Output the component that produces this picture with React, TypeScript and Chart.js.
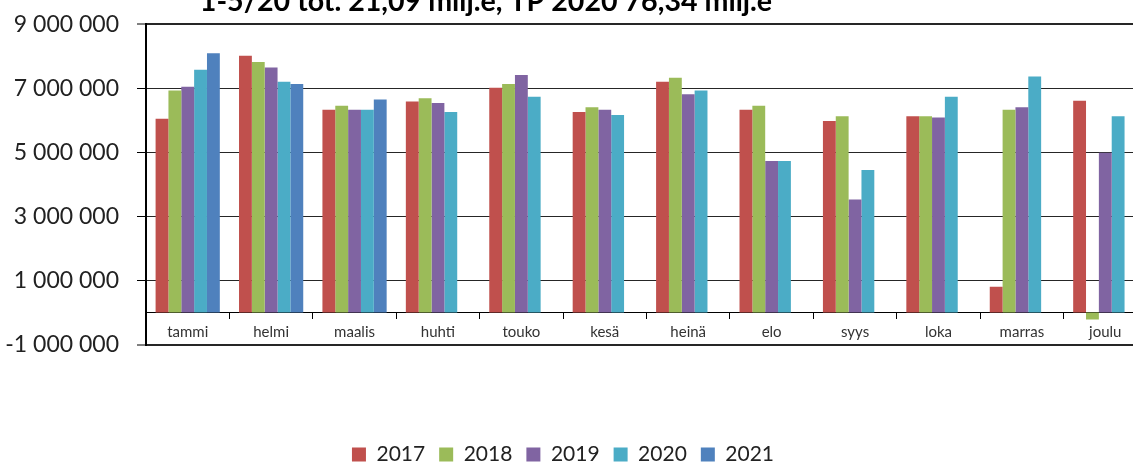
import { useEffect, useRef } from 'react';
import { Chart, registerables } from 'chart.js';

Chart.register(...registerables);

const TITLE = '1-5/20 tot. 21,09 milj.e, TP 2020 76,34 milj.e';

const CATEGORIES = ['tammi', 'helmi', 'maalis', 'huhti', 'touko', 'kesä', 'heinä', 'elo', 'syys', 'loka', 'marras', 'joulu'];

const SERIES_LABELS = ['2017', '2018', '2019', '2020', '2021'];

const V2017 = [6050000, 8020000, 6330000, 6590000, 7020000, 6260000, 7210000, 6330000, 5980000, 6130000, 810000, 6610000];
const V2018 = [6930000, 7820000, 6460000, 6690000, 7140000, 6410000, 7330000, 6460000, 6130000, 6130000, 6330000, -220000];
const V2019 = [7050000, 7650000, 6330000, 6540000, 7420000, 6330000, 6820000, 4730000, 3530000, 6090000, 6410000, 4990000];
const V2020 = [7580000, 7210000, 6330000, 6260000, 6740000, 6170000, 6930000, 4730000, 4450000, 6740000, 7370000, 6130000];
const V2021 = [8100000, 7140000, 6650000, null, null, null, null, null, null, null, null, null];

const SERIES_VALUES = [V2017, V2018, V2019, V2020, V2021];

const COLORS = ['#C0504D', '#9BBB59', '#8064A2', '#4BACC6', '#4F81BD'];

const Y_MIN = -1000000;
const Y_MAX = 9000000;
const Y_STEP = 2000000;

const CANVAS_W = 1160;
const CANVAS_H = 492;
const CANVAS_TOP = -17;
const Y_AXIS_W = 146;
const TITLE_CENTER = 486;
const LEGEND_CENTER = 563;

const FONT = 'Lato';

function formatTick(v: number): string {
  const s = Math.round(Math.abs(v)).toString().replace(/\B(?=(\d{3})+(?!\d))/g, ' ');
  return (v < 0 ? '-' : '') + s;
}

const placePlugin = {
  id: 'placeBlocks',
  afterLayout(chart: any) {
    const t = chart.titleBlock;
    if (t) {
      const d = TITLE_CENTER - (t.left + t.right) / 2;
      t.left += d;
      t.right += d;
    }
    const l = chart.legend;
    if (l) {
      const d = LEGEND_CENTER - (l.left + l.right) / 2;
      l.left += d;
      l.right += d;
    }
  },
};

export default function App() {
  const ref = useRef<HTMLCanvasElement>(null);

  useEffect(() => {
    const canvas = ref.current;
    if (!canvas) return;
    const chart = new Chart(canvas, {
      type: 'bar',
      data: {
        labels: CATEGORIES,
        datasets: SERIES_LABELS.map((label, i) => ({
          label,
          data: SERIES_VALUES[i],
          backgroundColor: COLORS[i],
          borderWidth: 0,
          barPercentage: 1,
          categoryPercentage: 0.77,
        })),
      },
      options: {
        responsive: false,
        animation: false,
        events: [],
        layout: { padding: { left: 0, right: 13, top: 0, bottom: 0 } },
        plugins: {
          title: {
            display: true,
            text: TITLE,
            color: '#000',
            font: { family: FONT, size: 28.6, weight: 'bold' },
            padding: { top: 2, bottom: 5 },
          },
          legend: {
            position: 'bottom',
            labels: {
              boxWidth: 14,
              boxHeight: 14,
              padding: 14,
              color: '#222',
              font: { family: FONT, size: 21 },
            },
            title: {
              display: true,
              text: '',
              font: { family: FONT, size: 12 },
              padding: { top: 71, bottom: 0 },
            },
          },
          tooltip: { enabled: false },
        },
        scales: {
          x: {
            position: { y: 0 },
            grid: {
              display: true,
              drawOnChartArea: false,
              drawTicks: true,
              tickLength: 6,
              color: '#000',
              lineWidth: 1,
              offset: true,
            },
            border: { display: true, color: '#000', width: 1 },
            ticks: {
              color: '#333',
              padding: 5,
              maxRotation: 0,
              autoSkip: false,
              font: { family: FONT, size: 15 },
            },
          },
          y: {
            min: Y_MIN,
            max: Y_MAX,
            afterFit(scale: any) {
              scale.width = Y_AXIS_W;
            },
            ticks: {
              stepSize: Y_STEP,
              padding: 18,
              color: '#222',
              font: { family: FONT, size: 23 },
              callback: (v: any) => formatTick(Number(v)),
            },
            grid: {
              color: '#262626',
              lineWidth: (ctx: any) => (ctx.tick && (ctx.tick.value === Y_MAX || ctx.tick.value === Y_MIN) ? 2 : 1),
              drawTicks: true,
              tickLength: 9,
              tickColor: '#000',
              tickWidth: 1,
            },
            border: { display: true, color: '#000', width: 2 },
          },
        },
      },
      plugins: [placePlugin],
    } as any);
    return () => chart.destroy();
  }, []);

  return (
    <div
      style={{
        position: 'fixed',
        left: 0,
        top: 0,
        width: 1133,
        height: 464,
        overflow: 'hidden',
        background: '#fff',
      }}
    >
      <canvas
        ref={ref}
        width={CANVAS_W}
        height={CANVAS_H}
        style={{ position: 'absolute', left: 0, top: CANVAS_TOP, width: CANVAS_W, height: CANVAS_H }}
      />
    </div>
  );
}
